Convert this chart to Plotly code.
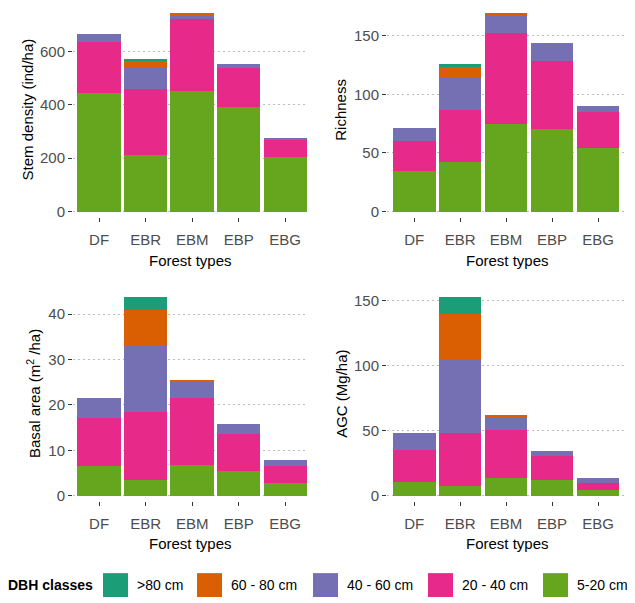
import plotly.graph_objects as go

# page body has an 8px default margin: figure is sized/offset to compensate
OX, OY = 8, 8
W, H = 627, 595

forest_types = ["DF", "EBR", "EBM", "EBP", "EBG"]
classes = ["5-20 cm", "20 - 40 cm", "40 - 60 cm", "60 - 80 cm", ">80 cm"]
colors = ["#66A61E", "#E7298A", "#7570B3", "#D95F02", "#1B9E77"]

# values per DBH class (bottom to top), per forest type
stem_density = {
    "5-20 cm":    [445, 214, 451, 393, 205],
    "20 - 40 cm": [192, 246, 271, 147, 62],
    "40 - 60 cm": [30, 80, 18, 12, 9],
    "60 - 80 cm": [0, 26, 5, 0, 0],
    ">80 cm":     [0, 4, 0, 0, 0],
}
richness = {
    "5-20 cm":    [35, 42, 75, 70, 54],
    "20 - 40 cm": [25, 45, 77, 58, 31],
    "40 - 60 cm": [11, 27, 15, 16, 5],
    "60 - 80 cm": [0, 9, 2, 0, 0],
    ">80 cm":     [0, 3, 0, 0, 0],
}
basal_area = {
    "5-20 cm":    [6.6, 3.4, 6.85, 5.5, 2.9],
    "20 - 40 cm": [10.5, 15.0, 14.65, 8.1, 3.7],
    "40 - 60 cm": [4.4, 14.6, 3.5, 2.1, 1.3],
    "60 - 80 cm": [0, 7.8, 0.4, 0, 0],
    ">80 cm":     [0, 2.9, 0, 0, 0],
}
agc = {
    "5-20 cm":    [10.9, 7.6, 13.8, 11.9, 4.6],
    "20 - 40 cm": [24.5, 41.1, 36.7, 18.7, 5.6],
    "40 - 60 cm": [13.0, 55.6, 10.2, 4.3, 3.6],
    "60 - 80 cm": [0, 35.4, 0.7, 0, 0],
    ">80 cm":     [0, 13.0, 0, 0, 0],
}

legend_order = [">80 cm", "60 - 80 cm", "40 - 60 cm", "20 - 40 cm", "5-20 cm"]

panels = [
    (stem_density, "Stem density (ind/ha)", [0, 200, 400, 600], [-20, 763]),
    (richness, "Richness", [0, 50, 100, 150], [-4.5, 173.5]),
    (basal_area, "Basal area (m<sup>2</sup> /ha)", [0, 10, 20, 30, 40], [-1.16, 45.9]),
    (agc, "AGC (Mg/ha)", [0, 50, 100, 150], [-4, 160.5]),
]

FONT = "Liberation Sans, Arial, sans-serif"
TICKC = "#4d4d4d"


def px(x):
    return (x - OX) / W


def py(y):
    return 1 - (y - OY) / H


# pixel layout (page coordinates)
xdom_px = [(73, 308), (387, 627), (73, 308), (387, 627)]
ydom_px = [(8, 218), (8, 218), (288.7, 503.6), (288.7, 503.6)]
xranges = [[-0.56, 4.49], [-0.59, 4.63], [-0.56, 4.49], [-0.59, 4.63]]
ytitle_x = [27.5, 340.8, 33, 340.8]
ytitle_y = [110.5, 110.5, 396, 396]
xtitle_y = [261.5, 261.5, 546.5, 546.5]

fig = go.Figure()
layout = dict(
    width=W, height=H, margin=dict(l=0, r=0, t=0, b=0),
    paper_bgcolor="white", plot_bgcolor="white",
    barmode="stack", showlegend=False,
    font=dict(family=FONT, size=15, color="black"),
)
annotations = []
shapes = []

for i, (data, ytitle, yticks, yrange) in enumerate(panels):
    n = i + 1
    xa = "x" if n == 1 else f"x{n}"
    ya = "y" if n == 1 else f"y{n}"
    for cls, col in zip(classes, colors):
        fig.add_trace(go.Bar(
            x=forest_types, y=data[cls], name=cls,
            marker=dict(color=col, line=dict(width=0)),
            width=0.93, xaxis=xa, yaxis=ya, showlegend=False,
        ))
    x0, x1 = xdom_px[i]
    y0, y1 = ydom_px[i]
    layout["xaxis" if n == 1 else f"xaxis{n}"] = dict(
        domain=[px(x0), px(x1)], anchor=ya, range=xranges[i],
        showgrid=False, showline=False, zeroline=False,
        ticks="outside", ticklen=4, tickwidth=1, tickcolor="#333333",
        tickfont=dict(size=15, color=TICKC), ticklabelstandoff=5,
        categoryorder="array", categoryarray=forest_types,
    )
    layout["yaxis" if n == 1 else f"yaxis{n}"] = dict(
        domain=[py(y1), py(y0)], anchor=xa, range=yrange,
        tickvals=yticks, showgrid=True, gridcolor="#bdbdbd", griddash="2px,3px",
        gridwidth=1, showline=False, zeroline=False,
        ticks="outside", ticklen=4, tickwidth=1, tickcolor="#333333",
        tickfont=dict(size=15, color=TICKC),
    )
    annotations.append(dict(
        text=ytitle, xref="paper", yref="paper",
        x=px(ytitle_x[i]), y=py(ytitle_y[i]),
        textangle=-90, showarrow=False, xanchor="center", yanchor="middle",
        font=dict(size=15, color="black"),
    ))
    annotations.append(dict(
        text="Forest types", xref="paper", yref="paper",
        x=px((x0 + x1) / 2), y=py(xtitle_y[i]),
        showarrow=False, xanchor="center", yanchor="middle",
        font=dict(size=15, color="black"),
    ))

# legend (manual, bottom)
leg_y = 588
annotations.append(dict(
    text="<b>DBH classes</b>", xref="paper", yref="paper",
    x=px(6), y=py(leg_y), xanchor="left", yanchor="middle",
    showarrow=False, font=dict(size=14, color="black"),
))
key_x = [103, 197, 313, 428, 543]
for kx, cls in zip(key_x, legend_order):
    col = colors[classes.index(cls)]
    shapes.append(dict(
        type="rect", xref="paper", yref="paper",
        x0=px(kx), x1=px(kx + 25), y0=py(600), y1=py(576),
        fillcolor=col, line=dict(width=0),
    ))
    annotations.append(dict(
        text=cls, xref="paper", yref="paper",
        x=px(kx + 32), y=py(leg_y), xanchor="left", yanchor="middle",
        showarrow=False, font=dict(size=14, color="black"),
    ))

layout["annotations"] = annotations
layout["shapes"] = shapes
fig.update_layout(**layout)
fig.write_html("out.html")
